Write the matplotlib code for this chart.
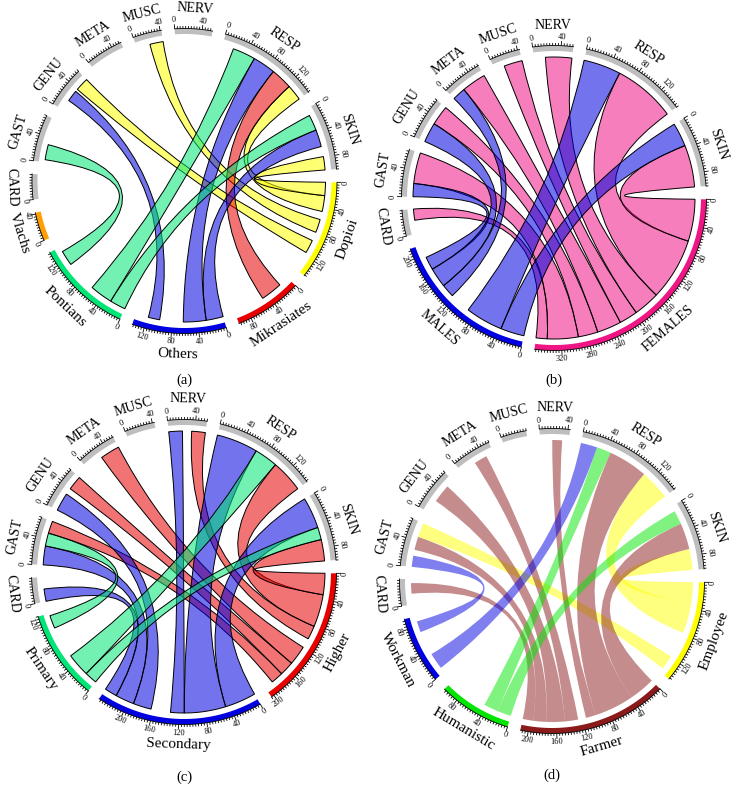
import numpy as np
import matplotlib.pyplot as plt
from matplotlib.path import Path
from matplotlib.patches import PathPatch, Polygon
from matplotlib.collections import LineCollection
from matplotlib.colors import to_rgba

plt.rcParams['font.family'] = ['Liberation Serif', 'DejaVu Serif']

diseases = ['CARD', 'GAST', 'GENU', 'META', 'MUSC', 'NERV', 'RESP', 'SKIN']

# (a) origin
groups_a = ['Dopioi', 'Mikrasiates', 'Others', 'Pontians', 'Vlachs']
colors_a = ['#FFFF00', '#E80000', '#0000E0', '#00E676', '#FFA000']
counts_a = [[12, 6, 10, 8, 1],
            [18, 12, 10, 24, 4],
            [21, 4, 18, 14, 3],
            [14, 10, 13, 16, 2],
            [21, 7, 8, 5, 1],
            [13, 10, 16, 14, 2],
            [25, 34, 36, 36, 18],
            [21, 16, 27, 25, 11]]
shown_a = [[0, 0, 0, 0, 0],
           [0, 0, 0, 1, 0],
           [1, 0, 1, 0, 0],
           [0, 0, 0, 0, 0],
           [1, 0, 0, 0, 0],
           [0, 0, 0, 0, 0],
           [1, 1, 1, 1, 0],
           [1, 0, 1, 1, 0]]
order_a = ['Vlachs', 'Pontians', 'Others', 'Mikrasiates', 'Dopioi']

# (b) sex
groups_b = ['FEMALES', 'MALES']
colors_b = ['#F01585', '#0000E0']
counts_b = [[17, 20], [47, 20], [30, 30], [37, 20],
            [28, 15], [40, 17], [95, 57], [64, 36]]
shown_b = [[1, 0], [1, 1], [1, 1], [1, 1],
           [1, 0], [1, 0], [1, 1], [1, 1]]
order_b = ['MALES', 'FEMALES']

# (c) education
groups_c = ['Higher', 'Secondary', 'Primary']
colors_c = ['#E80000', '#0000E0', '#00E676']
counts_c = [[14, 19, 4],
            [19, 29, 20],
            [22, 28, 10],
            [30, 15, 12],
            [15, 15, 13],
            [21, 21, 14],
            [50, 64, 36],
            [33, 48, 19]]
shown_c = [[0, 1, 0],
           [1, 1, 1],
           [1, 1, 0],
           [1, 0, 0],
           [0, 0, 0],
           [1, 1, 0],
           [1, 1, 1],
           [1, 1, 1]]
order_c = ['Secondary', 'Primary', 'Higher']

# (d) occupation
groups_d = ['Employee', 'Farmer', 'Humanistic', 'Workman']
colors_d = ['#FFFF00', '#8B1A1A', '#00E600', '#0000E0']
counts_d = [[6, 16, 8, 8],
            [22, 20, 9, 17],
            [12, 28, 11, 9],
            [12, 20, 14, 10],
            [6, 12, 8, 10],
            [10, 15, 10, 8],
            [46, 60, 22, 25],
            [32, 40, 21, 8]]
shown_d = [[0, 1, 0, 0],
           [1, 1, 0, 1],
           [0, 1, 0, 0],
           [0, 1, 0, 0],
           [0, 0, 0, 0],
           [0, 1, 0, 0],
           [1, 1, 1, 1],
           [1, 1, 1, 0]]
order_d = ['Workman', 'Humanistic', 'Farmer', 'Employee']

GAP = 5.0
R = 147.0
BAND = 5.5


def chord(ax, cx, cy, groups, colors, counts, shown, order, edge, alpha, caption, cap_y):
    m = np.array(counts, dtype=float)
    vis = np.array(shown, dtype=bool)
    names = groups + diseases
    sizes = np.concatenate([m.sum(axis=0), m.sum(axis=1)])
    cols = colors + ['#BEBEBE'] * len(diseases)
    scale = (360.0 - GAP * len(names)) / sizes.sum()

    def pt(theta, r):
        t = np.radians(theta)
        return cx + r * np.sin(t), cy - r * np.cos(t)

    def facing(theta):
        theta = theta % 360
        return 180 - theta if 90 < theta < 270 else -theta

    starts = []
    th = 90.5
    for s in sizes:
        starts.append(th)
        th += s * scale + GAP

    # outer track, axis and labels
    ticks = []
    ro = R + BAND
    for name, s, t0, col in zip(names, sizes, starts, cols):
        t1 = t0 + s * scale
        ts = np.linspace(t0, t1, 80)
        band = [pt(t, R) for t in ts] + [pt(t, ro) for t in ts[::-1]]
        ax.add_patch(Polygon(band, closed=True, fc=col, ec='none', zorder=3))
        xs, ys = zip(*[pt(t, ro) for t in ts])
        ax.plot(xs, ys, color='black', lw=0.6, zorder=4)
        for v in np.arange(0, s + 1e-9, 4):
            t = t0 + v * scale
            major = v % 40 == 0
            ticks.append([pt(t, ro), pt(t, ro + (4.5 if major else 2.5))])
            if major:
                x, y = pt(t, ro + 8.5)
                ax.text(x, y, f'{int(v)}', fontsize=6, rotation=facing(t),
                        ha='center', va='center', rotation_mode='anchor', zorder=5)
        tm = (t0 + t1) / 2
        x, y = pt(tm, R + 26)
        ax.text(x, y, name, fontsize=10 if name.isupper() else 11, rotation=facing(tm),
                ha='center', va='center', rotation_mode='anchor', zorder=5)
    ax.add_collection(LineCollection(ticks, colors='black', linewidths=0.6, zorder=4))

    # link positions inside sectors
    ng, nd = len(groups), len(diseases)
    gidx = {g: j for j, g in enumerate(groups)}
    dspan, gspan = {}, {}
    for i in range(nd):
        t = starts[ng + i]
        for g in order:
            j = gidx[g]
            w = m[i, j] * scale
            dspan[i, j] = (t, t + w)
            t += w
    for j in range(ng):
        t = starts[j]
        for i in reversed(range(nd)):
            w = m[i, j] * scale
            gspan[i, j] = (t, t + w)
            t += w

    rl = R - 6
    for i in range(nd):
        for j in range(ng):
            if not vis[i, j]:
                continue
            a1, a2 = dspan[i, j]
            b1, b2 = gspan[i, j]
            verts = [pt(t, rl) for t in np.linspace(a1, a2, 30)]
            codes = [Path.MOVETO] + [Path.LINETO] * 29
            verts += [(cx, cy), pt(b1, rl)]
            codes += [Path.CURVE3] * 2
            arc = [pt(t, rl) for t in np.linspace(b1, b2, 30)][1:]
            verts += arc
            codes += [Path.LINETO] * len(arc)
            verts += [(cx, cy), pt(a1, rl)]
            codes += [Path.CURVE3] * 2
            verts.append(pt(a1, rl))
            codes.append(Path.CLOSEPOLY)
            ax.add_patch(PathPatch(Path(verts, codes), fc=to_rgba(colors[j], alpha),
                                   ec=edge if edge else 'none', lw=0.7, zorder=2))

    ax.text(cx, cap_y, caption, fontsize=10.5, ha='center', va='center')


fig = plt.figure(figsize=(7.37, 8.0), dpi=100)
ax = fig.add_axes([0, 0, 1, 1])
ax.set_xlim(0, 737)
ax.set_ylim(800, 0)
ax.axis('off')

chord(ax, 184.5, 181, groups_a, colors_a, counts_a, shown_a, order_a, 'black', 0.55, '(a)', 380)
chord(ax, 554, 198, groups_b, colors_b, counts_b, shown_b, order_b, 'black', 0.55, '(b)', 380)
chord(ax, 184, 572, groups_c, colors_c, counts_c, shown_c, order_c, 'black', 0.55, '(c)', 777)
chord(ax, 552, 581, groups_d, colors_d, counts_d, shown_d, order_d, None, 0.5, '(d)', 775)

fig.savefig('out.png', dpi=100)
